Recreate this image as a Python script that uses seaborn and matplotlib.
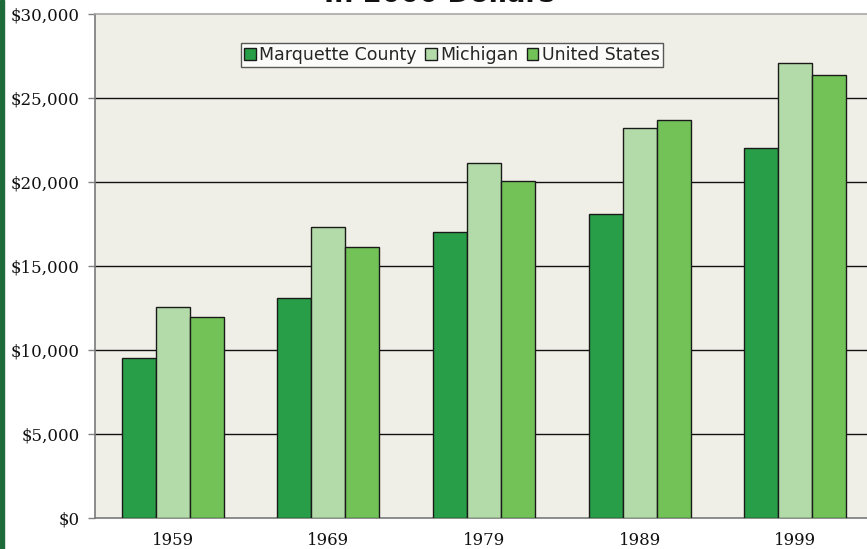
"""Per capita income in 2000 dollars: Marquette County vs Michigan vs United States."""

import matplotlib
matplotlib.use("Agg")
import matplotlib.pyplot as plt
import matplotlib.ticker as mticker
import pandas as pd
import seaborn as sns

# values
years = ["1959", "1969", "1979", "1989", "1999"]
regions = ["Marquette County", "Michigan", "United States"]
marquette = [9500, 13080, 17050, 18100, 22050]
michigan = [12560, 17330, 21160, 23220, 27060]
united_states = [11970, 16120, 20080, 23680, 26380]
y_ticks = [0, 5000, 10000, 15000, 20000, 25000, 30000]

colors = ["#289E48", "#B3DBAA", "#72C257"]

df = pd.DataFrame({
    "Year": years * 3,
    "Region": [r for r in regions for _ in years],
    "Income": marquette + michigan + united_states,
})

sns.set_style("white")

W, H = 867, 549
fig = plt.figure(figsize=(W / 100, H / 100), dpi=100)
# plot area runs off the right edge in the reference
ax = fig.add_axes([95 / W, (H - 518) / H, (873 - 95) / W, (518 - 14) / H])
ax.set_facecolor("#F0EFE7")

sns.barplot(data=df, x="Year", y="Income", hue="Region", palette=colors,
            saturation=1, width=0.655, edgecolor="#1a1a1a", linewidth=1.0,
            ax=ax, zorder=3, errorbar=None)

ax.set_ylim(0, 30000)
ax.set_xlim(-0.5, 4.5)
ax.set_yticks(y_ticks)
ax.yaxis.set_major_formatter(mticker.FuncFormatter(lambda v, p: f"${v:,.0f}"))
for g in y_ticks[1:-1]:
    ax.axhline(g, color="#111111", linewidth=1.0, zorder=1)

ax.set_xlabel("")
ax.set_ylabel("")

# tick marks between groups, labels at centres
ax.set_xticks([0.5, 1.5, 2.5, 3.5], minor=True)
ax.tick_params(axis="x", which="major", length=0, pad=10)
ax.tick_params(axis="x", which="minor", length=5, color="#808080", width=1)
ax.tick_params(axis="y", length=5, color="#808080", width=1, pad=6, left=True)
for lab in ax.get_xticklabels() + ax.get_yticklabels():
    lab.set_fontfamily("DejaVu Serif")
    lab.set_fontsize(12)
    lab.set_color("#111111")

for side in ["left", "bottom"]:
    ax.spines[side].set_color("#7a7a7a")
    ax.spines[side].set_linewidth(1.2)
ax.spines["top"].set_color("#a8a8a8")
ax.spines["top"].set_linewidth(1.2)
ax.spines["right"].set_visible(False)

handles, labels = ax.get_legend_handles_labels()
ax.legend_.remove()
leg = fig.legend(handles, labels, loc="center", bbox_to_anchor=(452 / W, 1 - 55 / H),
                 ncol=3, frameon=True, fancybox=False, fontsize=12.5,
                 handlelength=0.65, handleheight=0.65, handletextpad=0.2,
                 columnspacing=0.5, borderpad=0.2, borderaxespad=0)
leg.get_frame().set_edgecolor("#303030")
leg.get_frame().set_linewidth(1.0)
leg.get_frame().set_facecolor("white")

# title is cut off at the top of the reference, only its lower edge shows
fig.text(439 / W, 1 - 1.5 / H, "In 2000 Dollars", ha="center", va="baseline",
         fontsize=19.5, fontweight="bold", color="#111111")

# dark green strip on the left edge
fig.add_artist(plt.Rectangle((0, 0), 4 / W, 1, transform=fig.transFigure,
                             color="#1E6B3A", zorder=10))

fig.savefig("out.png", dpi=100)
